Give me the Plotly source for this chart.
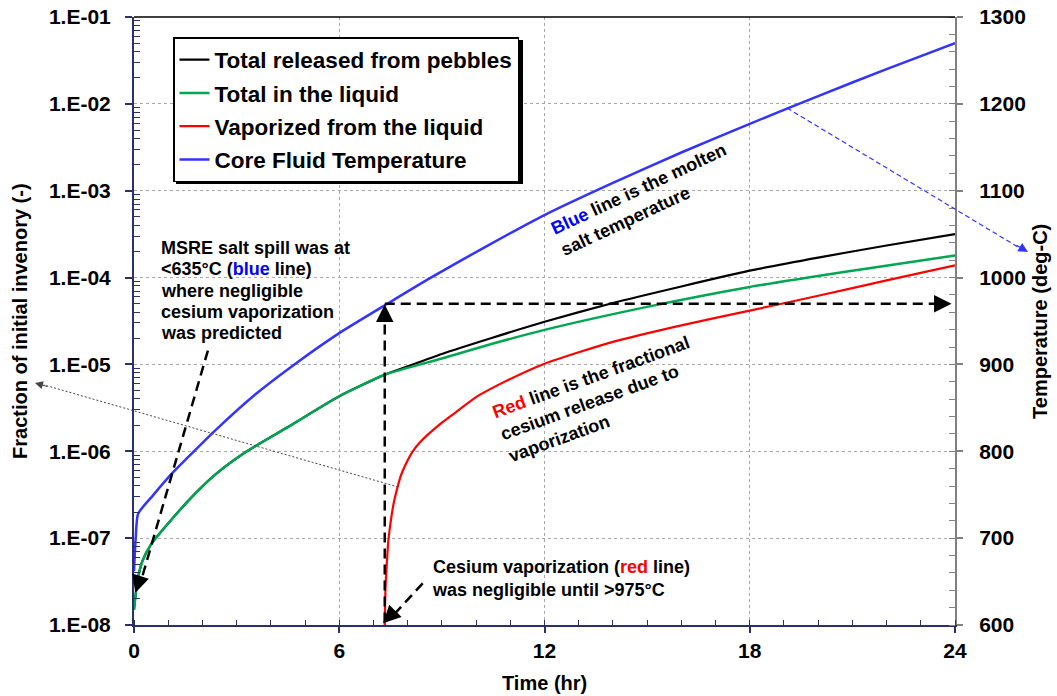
import plotly.graph_objects as go

# ---------------- data ----------------
t_green = [0, 0.1, 0.25, 0.5, 1.0, 1.8, 2.4, 3.3, 4.5, 6.0, 7.33, 9.0, 10.5, 12.0, 15.0, 18.0, 21.0, 24.0]
v_green = [1.5e-8, 3.2e-8, 5.5e-8, 8.5e-8, 1.48e-7, 3.3e-7, 5.5e-7, 1.0e-6, 1.9e-6, 4.3e-6, 7.6e-6,
           1.17e-5, 1.74e-5, 2.5e-5, 4.6e-5, 7.8e-5, 1.2e-4, 1.8e-4]

t_black = [0, 0.1, 0.25, 0.5, 1.0, 1.8, 2.4, 3.3, 4.5, 6.0, 7.33, 8.0, 9.0, 10.5, 12.0, 14.0, 16.0, 18.0,
           20.0, 22.0, 24.0]
v_black = [1.5e-8, 3.2e-8, 5.5e-8, 8.5e-8, 1.48e-7, 3.3e-7, 5.5e-7, 1.0e-6, 1.9e-6, 4.3e-6, 7.6e-6,
           9.5e-6, 1.32e-5, 2.04e-5, 3.1e-5, 5.1e-5, 7.9e-5, 1.2e-4, 1.7e-4, 2.34e-4, 3.16e-4]

t_red = [7.33, 7.34, 7.36, 7.39, 7.43, 7.48, 7.53, 7.6, 7.7, 7.8, 7.95, 8.15, 8.4, 8.64, 9.0, 9.5,
         10.0, 11.0, 12.0, 13.0, 14.0, 16.0, 18.0, 20.0, 22.0, 24.0]
v_red = [1.0e-8, 1.8e-8, 3.2e-8, 5.1e-8, 8.9e-8, 1.32e-7, 1.82e-7, 2.63e-7, 3.8e-7, 5.25e-7, 7.2e-7,
         1.0e-6, 1.32e-6, 1.62e-6, 2.14e-6, 3.0e-6, 4.2e-6, 6.8e-6, 1.02e-5, 1.38e-5, 1.82e-5,
         2.82e-5, 4.17e-5, 6.17e-5, 9.3e-5, 1.38e-4]

t_blue = [0, 0.05, 0.12, 0.55, 1.05, 1.55, 2.4, 3.5, 4.76, 6.0, 7.33, 8.64, 10.3, 12.0, 14.0, 16.0,
          18.0, 20.0, 22.0, 24.0]
T_blue = [662, 700, 728, 749, 772, 792, 825, 864, 902, 936, 968, 999, 1036, 1072, 1109, 1144,
          1177, 1209, 1240, 1270]

x_ticks = [0, 6, 12, 18, 24]
y_ticks = [1e-8, 1e-7, 1e-6, 1e-5, 1e-4, 1e-3, 1e-2, 1e-1]
y_ticktext = ["1.E-08", "1.E-07", "1.E-06", "1.E-05", "1.E-04", "1.E-03", "1.E-02", "1.E-01"]
y_minor = [k * 10.0 ** e for e in range(-8, -1) for k in range(2, 10)]
y2_ticks = [600, 700, 800, 900, 1000, 1100, 1200, 1300]

names = ["Total released from pebbles", "Total in the liquid", "Vaporized from the liquid",
         "Core Fluid Temperature"]

msre_lines = ["MSRE salt spill was at",
              "&lt;635°C (<span style='color:#0000FF'>blue</span> line)",
              "where negligible",
              "cesium vaporization",
              "was predicted"]

# ---------------- figure ----------------
FONT = "Arial, Liberation Sans, Helvetica, sans-serif"
NAVY = "#2B2F6B"
GRID = "#A8A8A8"

fig = go.Figure()
fig.add_trace(go.Scatter(x=t_black, y=v_black, name=names[0], mode="lines", legendgroup="a",
                         line=dict(color="#000000", width=2.2, shape="spline", smoothing=0.6)))
fig.add_trace(go.Scatter(x=t_green, y=v_green, name=names[1], mode="lines", legendgroup="b",
                         line=dict(color="#00A651", width=2.5, shape="spline", smoothing=0.6)))
fig.add_trace(go.Scatter(x=t_red, y=v_red, name=names[2], mode="lines", legendgroup="c",
                         line=dict(color="#FF0000", width=2.2, shape="spline", smoothing=0.5)))
fig.add_trace(go.Scatter(x=t_blue, y=T_blue, name=names[3], mode="lines", yaxis="y2", legendgroup="d",
                         line=dict(color="#3333FF", width=2.5, shape="spline", smoothing=0.6)))

ann_font = dict(family=FONT, size=18, color="#000000", weight="bold")
title_font = dict(family=FONT, size=20, color="#000000", weight="bold")

annotations = [
    # axis titles
    dict(x=0.5, y=-0.0954, xref="paper", yref="paper", xanchor="center", yanchor="middle",
         showarrow=False, font=title_font, text="Time (hr)"),
    dict(x=-0.1389, y=0.5, xref="paper", yref="paper", xanchor="center", yanchor="middle",
         showarrow=False, font=title_font, textangle=-90, text="Fraction of initial invenory (-)"),
    dict(x=1.1035, y=0.5, xref="paper", yref="paper", xanchor="center", yanchor="middle",
         showarrow=False, font=title_font, textangle=-90, text="Temperature (deg-C)"),
    # text notes
    dict(x=14.9, y=1090, xref="x", yref="y2", xanchor="center", yanchor="middle", align="left",
         showarrow=False, font=ann_font, textangle=-25,
         text="<span style='color:#0000FF'>Blue</span> line is the molten<br>salt temperature"),
    dict(x=13.58, y=860, xref="x", yref="y2", xanchor="center", yanchor="middle", align="left",
         showarrow=False, font=ann_font, textangle=-20,
         text="<span style='color:#FF0000'>Red</span> line is the fractional<br>cesium release due to<br>vaporization"),
    dict(x=8.65, y=681, xref="x", yref="y2", xanchor="left", yanchor="top", align="left",
         showarrow=False, font=ann_font,
         text="Cesium vaporization (<span style='color:#FF0000'>red</span> line)<br>was negligible until &gt;975°C"),
    # arrowheads
    dict(x=7.33, y=969, xref="x", yref="y2", ax=0, ay=18, text="", showarrow=True,
         arrowhead=2, arrowsize=1.4, arrowwidth=2.5, arrowcolor="#000000"),
    dict(x=23.9, y=970, xref="x", yref="y2", ax=-18, ay=0, text="", showarrow=True,
         arrowhead=2, arrowsize=1.4, arrowwidth=2.5, arrowcolor="#000000"),
    dict(x=0.04, y=637, xref="x", yref="y2", ax=5.5, ay=-18, text="", showarrow=True,
         arrowhead=2, arrowsize=1.4, arrowwidth=2.5, arrowcolor="#000000"),
    dict(x=7.28, y=602, xref="x", yref="y2", ax=13, ay=-13, text="", showarrow=True,
         arrowhead=2, arrowsize=1.4, arrowwidth=2.5, arrowcolor="#000000"),
    dict(x=-0.1206, y=0.398, xref="paper", yref="paper", ax=14, ay=4, text="", showarrow=True,
         arrowhead=2, arrowsize=1.6, arrowwidth=1, arrowcolor="#444444"),
    dict(x=1.0889, y=0.6135, xref="paper", yref="paper", ax=-13, ay=-7.7, text="", showarrow=True,
         arrowhead=2, arrowsize=1.6, arrowwidth=1.2, arrowcolor="#3333FF"),
]
for i, line in enumerate(msre_lines):
    annotations.append(dict(x=0.72, y=1034 - 24.5 * i, xref="x", yref="y2", xanchor="left",
                            yanchor="middle", align="left", showarrow=False, font=ann_font, text=line))

shapes = [
    # legend shadow
    dict(type="rect", xref="paper", yref="paper", x0=(176 - 134) / 821, x1=(523 - 134) / 821,
         y0=(625 - 184) / 608, y1=(625 - 40) / 608, fillcolor="#000000", line=dict(width=0), layer="above"),
    # top border
    dict(type="line", xref="paper", yref="paper", x0=0, x1=1, y0=1, y1=1,
         line=dict(color="#000000", width=1.5)),
    # dashed arrows
    dict(type="line", xref="x", yref="y2", x0=7.33, x1=7.33, y0=603, y1=962,
         line=dict(color="#000000", width=2.5, dash="10px,6px")),
    dict(type="line", xref="x", yref="y2", x0=7.33, x1=23.5, y0=970, y1=970,
         line=dict(color="#000000", width=2.5, dash="10px,6px")),
    dict(type="line", xref="x", yref="y2", x0=2.16, x1=0.2, y0=916, y1=650,
         line=dict(color="#000000", width=2.5, dash="10px,6px")),
    dict(type="line", xref="x", yref="y2", x0=8.44, x1=7.6, y0=648, y1=612,
         line=dict(color="#000000", width=2.5, dash="10px,6px")),
    # thin dotted arrow
    dict(type="line", xref="paper", yref="paper", x0=0.3216, x1=-0.11, y0=0.227, y1=0.395,
         line=dict(color="#444444", width=1, dash="2px,2px")),
    # blue dashed arrow
    dict(type="line", xref="paper", yref="paper", x0=0.7954, x1=1.08, y0=0.8503, y1=0.619,
         line=dict(color="#3333FF", width=1.2, dash="5px,3px")),
]

tickfont = dict(family=FONT, size=21, color="#000000", weight="bold")

fig.update_layout(
    width=1057, height=696,
    margin=dict(l=134, r=102, t=17, b=71, autoexpand=False),
    paper_bgcolor="#FFFFFF", plot_bgcolor="#FFFFFF",
    showlegend=True,
    legend=dict(x=(173 - 134) / 821, y=(625 - 37) / 608, xanchor="left", yanchor="top",
                bgcolor="#FFFFFF", bordercolor="#000000", borderwidth=1.5,
                font=dict(family=FONT, size=22.5, color="#000000", weight="bold"),
                tracegroupgap=1, itemwidth=30),
    xaxis=dict(range=[0, 24], tickvals=x_ticks, ticks="outside", ticklen=6, tickwidth=1.5,
               tickcolor=NAVY, showline=True, linecolor=NAVY, linewidth=2, automargin=False,
               showgrid=True, gridcolor=GRID, griddash="3px,3px", gridwidth=1,
               zeroline=False, tickfont=tickfont, ticklabelstandoff=0,
               minor=dict(dtick=1, ticks="inside", ticklen=5, tickcolor=NAVY, tickwidth=1, showgrid=False)),
    yaxis=dict(type="log", range=[-8, -1], tickvals=y_ticks, ticktext=y_ticktext,
               ticks="outside", ticklen=7, tickwidth=1.5, tickcolor=NAVY, automargin=False,
               showline=True, linecolor=NAVY, linewidth=2,
               showgrid=True, gridcolor=GRID, griddash="3px,3px", gridwidth=1,
               zeroline=False, tickfont=tickfont, ticklabelstandoff=10,
               minor=dict(tickvals=y_minor, ticks="inside", ticklen=6, tickcolor=NAVY, tickwidth=1,
                          showgrid=False)),
    yaxis2=dict(overlaying="y", side="right", range=[600, 1300], tickvals=y2_ticks,
                ticks="outside", ticklen=6, tickwidth=1.5, tickcolor="#808080", automargin=False,
                showline=True, linecolor="#808080", linewidth=2, showgrid=False, zeroline=False,
                tickfont=tickfont, ticklabelstandoff=12,
                minor=dict(dtick=20, ticks="inside", ticklen=6, tickcolor="#808080", tickwidth=1)),
    annotations=annotations,
    shapes=shapes,
)

fig.write_html("out.html")
